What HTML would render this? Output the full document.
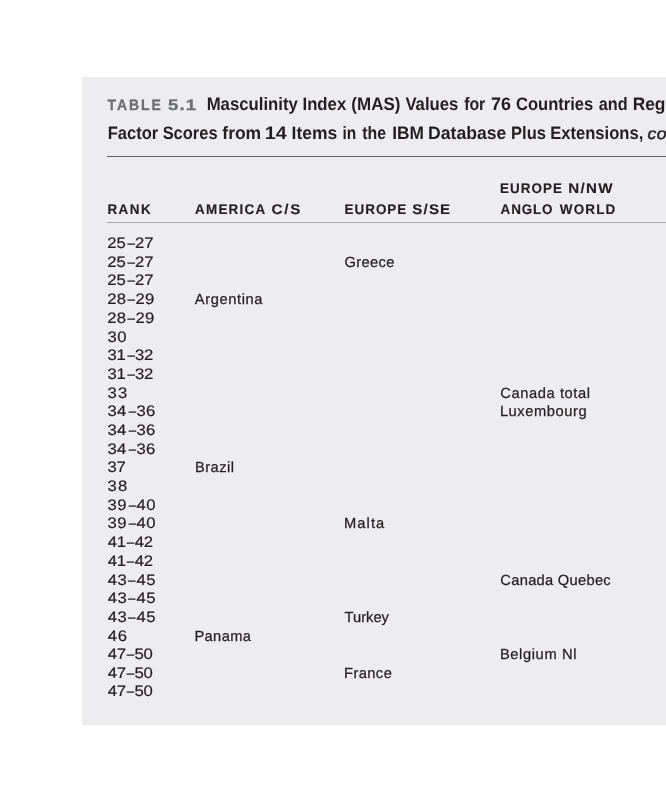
<!DOCTYPE html>
<html><head><meta charset="utf-8"><title>Table 5.1</title>
<style>
html,body{margin:0;padding:0;background:#fff;}
body{width:666px;height:800px;overflow:hidden;position:relative;font-family:"Liberation Sans",sans-serif;color:#231f20;text-rendering:geometricPrecision;}
.panel{position:absolute;left:82px;top:77px;width:600px;height:648px;background:#ededef;}
span{position:absolute;white-space:nowrap;line-height:20px;}
.rank,.label{line-height:21px;}
.label{font-weight:bold;font-size:15.2px;color:#6d6e71;-webkit-text-stroke:0.3px #6d6e71;transform-origin:0 0;}
.title{font-weight:bold;font-size:18px;line-height:24px;transform-origin:0 0;}
.ital{font-style:italic;font-size:16px;line-height:23px;-webkit-text-stroke:0.45px #231f20;transform-origin:0 0;}
.head{font-weight:bold;font-size:14px;-webkit-text-stroke:0.15px #231f20;transform-origin:0 0;}
.body{font-size:14.7px;-webkit-text-stroke:0.25px #231f20;transform-origin:0 0;}
.rank{font-size:15.2px;-webkit-text-stroke:0.2px #231f20;transform-origin:0 0;}
.rank i{display:inline-block;font-style:normal;transform:translateX(0.4px) scaleX(0.8);}
.rule{position:absolute;left:107px;width:600px;height:1px;}
</style></head><body>
<div class="panel"></div>
<div class="rule" style="top:156px;background:#606063"></div>
<div class="rule" style="top:222px;background:#a7a9ac"></div>
<span class="label" style="left:107px;top:95.0px;letter-spacing:2.128px;transform:translateX(0.54px) scaleX(0.9200)">TABLE</span>
<span class="label" style="left:167px;top:95.0px;letter-spacing:0.946px;transform:translateX(0.93px) scaleX(1.2200)">5.1</span>
<span class="title" style="left:206px;top:92.0px;transform:translateX(0.68px) scaleX(0.9295)">Masculinity</span>
<span class="title" style="left:302px;top:92.0px;transform:translateX(0.48px) scaleX(0.9305)">Index</span>
<span class="title" style="left:351px;top:92.0px;transform:translateX(0.36px) scaleX(0.9423)">(MAS)</span>
<span class="title" style="left:405px;top:92.0px;transform:translateX(0.39px) scaleX(0.9274)">Values</span>
<span class="title" style="left:464px;top:92.0px;transform:translateX(0.13px) scaleX(0.8798)">for</span>
<span class="title" style="left:490px;top:92.0px;transform:translateX(0.93px) scaleX(0.9947)">76</span>
<span class="title" style="left:516px;top:92.0px;transform:translateX(0.02px) scaleX(0.9185)">Countries</span>
<span class="title" style="left:598px;top:92.0px;transform:translateX(0.82px) scaleX(0.9014)">and</span>
<span class="title" style="left:632px;top:92.0px;transform:translateX(0.64px) scaleX(0.9653)">Regions</span>
<span class="title" style="left:107px;top:121.0px;transform:translateX(0.69px) scaleX(0.9190)">Factor</span>
<span class="title" style="left:162px;top:121.0px;transform:translateX(0.63px) scaleX(0.9153)">Scores</span>
<span class="title" style="left:222px;top:121.0px;transform:translateX(0.30px) scaleX(0.9721)">from</span>
<span class="title" style="left:264px;top:121.0px;transform:translateX(0.67px) scaleX(1.1000)">14</span>
<span class="title" style="left:291px;top:121.0px;transform:translateX(0.53px) scaleX(0.9716)">Items</span>
<span class="title" style="left:342px;top:121.0px;transform:translateX(0.51px) scaleX(0.8600)">in</span>
<span class="title" style="left:362px;top:121.0px;transform:translateX(0.21px) scaleX(0.8829)">the</span>
<span class="title" style="left:392px;top:121.0px;transform:translateX(0.14px) scaleX(0.9612)">IBM</span>
<span class="title" style="left:428px;top:121.0px;transform:translateX(0.12px) scaleX(0.9780)">Database</span>
<span class="title" style="left:510px;top:121.0px;transform:translateX(0.99px) scaleX(0.9204)">Plus</span>
<span class="title" style="left:550px;top:121.0px;transform:translateX(0.19px) scaleX(0.9217)">Extensions,</span>
<span class="ital" style="left:647px;top:123.0px;letter-spacing:0.500px;transform:translateX(0.52px) scaleX(1.1000)">continued</span>
<span class="head" style="left:107px;top:199.0px;letter-spacing:1.528px;transform:translateX(0.40px) scaleX(0.9600)">RANK</span>
<span class="head" style="left:194px;top:199.0px;letter-spacing:1.314px;transform:translateX(0.97px) scaleX(0.9600)">AMERICA</span>
<span class="head" style="left:271px;top:199.0px;letter-spacing:1.716px;transform:translateX(0.38px) scaleX(1.0800)">C/S</span>
<span class="head" style="left:344px;top:199.0px;letter-spacing:1.076px;transform:translateX(0.40px) scaleX(0.9600)">EUROPE</span>
<span class="head" style="left:412px;top:199.0px;letter-spacing:1.040px;transform:translateX(0.36px) scaleX(1.0800)">S/SE</span>
<span class="head" style="left:500px;top:178.0px;letter-spacing:1.097px;transform:translateX(0.00px) scaleX(0.9600)">EUROPE</span>
<span class="head" style="left:568px;top:178.0px;letter-spacing:1.270px;transform:translateX(0.19px) scaleX(1.0800)">N/NW</span>
<span class="head" style="left:500px;top:199.0px;letter-spacing:0.903px;transform:translateX(0.57px) scaleX(0.9600)">ANGLO</span>
<span class="head" style="left:559px;top:199.0px;letter-spacing:1.228px;transform:translateX(0.79px) scaleX(0.9600)">WORLD</span>
<span class="rank" style="left:107px;top:233.0px;letter-spacing:-0.071px;transform:translateX(0.36px) scaleX(1.1000)">25<i>–</i>27</span>
<span class="rank" style="left:107px;top:252.0px;letter-spacing:-0.071px;transform:translateX(0.36px) scaleX(1.1000)">25<i>–</i>27</span>
<span class="body" style="left:344.46px;top:253.0px;letter-spacing:0.377px">Greece</span>
<span class="rank" style="left:107px;top:270.0px;letter-spacing:-0.071px;transform:translateX(0.36px) scaleX(1.1000)">25<i>–</i>27</span>
<span class="rank" style="left:107px;top:289.0px;letter-spacing:0.100px;transform:translateX(0.36px) scaleX(1.1000)">28<i>–</i>29</span>
<span class="body" style="left:194.77px;top:290.0px;letter-spacing:0.613px">Argentina</span>
<span class="rank" style="left:107px;top:308.0px;letter-spacing:0.100px;transform:translateX(0.36px) scaleX(1.1000)">28<i>–</i>29</span>
<span class="rank" style="left:107px;top:327.0px;letter-spacing:0.538px;transform:translateX(0.46px) scaleX(1.1000)">30</span>
<span class="rank" style="left:107px;top:345.0px;letter-spacing:-0.140px;transform:translateX(0.46px) scaleX(1.1000)">31<i>–</i>32</span>
<span class="rank" style="left:107px;top:364.0px;letter-spacing:-0.140px;transform:translateX(0.46px) scaleX(1.1000)">31<i>–</i>32</span>
<span class="rank" style="left:107px;top:383.0px;letter-spacing:1.067px;transform:translateX(0.46px) scaleX(1.1000)">33</span>
<span class="body" style="left:500.35px;top:384.0px;letter-spacing:0.579px">Canada total</span>
<span class="rank" style="left:107px;top:401.0px;letter-spacing:0.313px;transform:translateX(0.46px) scaleX(1.1000)">34<i>–</i>36</span>
<span class="body" style="left:499.89px;top:402.0px;letter-spacing:0.571px">Luxembourg</span>
<span class="rank" style="left:107px;top:420.0px;letter-spacing:0.313px;transform:translateX(0.46px) scaleX(1.1000)">34<i>–</i>36</span>
<span class="rank" style="left:107px;top:439.0px;letter-spacing:0.313px;transform:translateX(0.46px) scaleX(1.1000)">34<i>–</i>36</span>
<span class="rank" style="left:107px;top:457.0px;letter-spacing:-0.200px;transform:translateX(0.46px) scaleX(1.1000)">37</span>
<span class="body" style="left:194.99px;top:458.0px;letter-spacing:0.446px">Brazil</span>
<span class="rank" style="left:107px;top:476.0px;letter-spacing:1.060px;transform:translateX(0.46px) scaleX(1.1000)">38</span>
<span class="rank" style="left:107px;top:495.0px;letter-spacing:0.340px;transform:translateX(0.46px) scaleX(1.1000)">39<i>–</i>40</span>
<span class="rank" style="left:107px;top:513.0px;letter-spacing:0.340px;transform:translateX(0.46px) scaleX(1.1000)">39<i>–</i>40</span>
<span class="body" style="left:343.99px;top:514.0px;letter-spacing:1.090px">Malta</span>
<span class="rank" style="left:107px;top:532.0px;letter-spacing:-0.289px;transform:translateX(0.82px) scaleX(1.1000)">41<i>–</i>42</span>
<span class="rank" style="left:107px;top:551.0px;letter-spacing:-0.289px;transform:translateX(0.82px) scaleX(1.1000)">41<i>–</i>42</span>
<span class="rank" style="left:107px;top:570.0px;letter-spacing:0.271px;transform:translateX(0.82px) scaleX(1.1000)">43<i>–</i>45</span>
<span class="body" style="left:500.35px;top:571.0px;letter-spacing:0.281px">Canada Quebec</span>
<span class="rank" style="left:107px;top:588.0px;letter-spacing:0.271px;transform:translateX(0.82px) scaleX(1.1000)">43<i>–</i>45</span>
<span class="rank" style="left:107px;top:607.0px;letter-spacing:0.271px;transform:translateX(0.82px) scaleX(1.1000)">43<i>–</i>45</span>
<span class="body" style="left:344.57px;top:608.0px;letter-spacing:-0.004px">Turkey</span>
<span class="rank" style="left:107px;top:626.0px;letter-spacing:0.473px;transform:translateX(0.82px) scaleX(1.1000)">46</span>
<span class="body" style="left:194.39px;top:627.0px;letter-spacing:0.391px">Panama</span>
<span class="rank" style="left:107px;top:644.0px;letter-spacing:-0.331px;transform:translateX(0.82px) scaleX(1.1000)">47<i>–</i>50</span>
<span class="body" style="left:499.89px;top:645.0px;letter-spacing:0.613px">Belgium Nl</span>
<span class="rank" style="left:107px;top:663.0px;letter-spacing:-0.331px;transform:translateX(0.82px) scaleX(1.1000)">47<i>–</i>50</span>
<span class="body" style="left:343.99px;top:664.0px;letter-spacing:0.422px">France</span>
<span class="rank" style="left:107px;top:681.0px;letter-spacing:-0.331px;transform:translateX(0.82px) scaleX(1.1000)">47<i>–</i>50</span>
</body></html>
